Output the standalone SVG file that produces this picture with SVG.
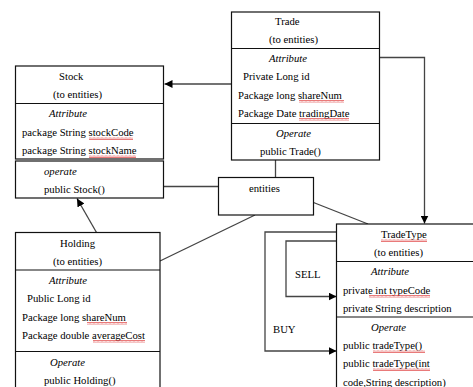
<svg xmlns="http://www.w3.org/2000/svg" width="473" height="387" viewBox="0 0 473 387">
<defs>
<style>
.box{fill:#fff;stroke:#111;stroke-width:1.2}
.div{stroke:#111;stroke-width:1.2}
.ln{fill:none;stroke:#444;stroke-width:1.3}
text{font-family:"Liberation Serif","Times New Roman",serif;font-size:10.7px;fill:#000}
.it{font-style:italic}
.sq{fill:url(#wavy)}
</style>
<pattern id="wavy" width="4" height="3" patternUnits="userSpaceOnUse">
<path d="M0 2.5 L1 0.5 L2 2.5 L3 0.5 L4 2.5" fill="none" stroke="#e04040" stroke-width="0.7"/>
</pattern>
<marker id="ah" viewBox="0 0 10 10" refX="10" refY="5" markerWidth="8" markerHeight="8" markerUnits="userSpaceOnUse" orient="auto">
<path d="M0 0 L10 5 L0 10 Z" fill="#000"/>
</marker>
</defs>

<g id="connectors">
<line class="ln" x1="231" y1="84" x2="164.5" y2="84" marker-end="url(#ah)"/>
<polyline class="ln" points="379,57.5 424.5,57.5 424.5,223.5" marker-end="url(#ah)"/>
<line class="ln" x1="96.5" y1="232.5" x2="77" y2="198.5" marker-end="url(#ah)"/>
<line class="ln" x1="275.5" y1="160" x2="275.5" y2="177.5"/>
<line class="ln" x1="163.5" y1="186.5" x2="218.5" y2="186.5"/>
<line class="ln" x1="255" y1="215" x2="160" y2="261"/>
<line class="ln" x1="313.5" y1="202.5" x2="368" y2="224"/>
<polyline class="ln" points="336.5,241 286,241 286,296.5 336.5,296.5" marker-end="url(#ah)"/>
<polyline class="ln" points="336.5,232 265,232 265,351 336.5,351" marker-end="url(#ah)"/>
</g>

<g id="trade">
<rect class="box" x="231.5" y="12" width="148" height="148"/>
<line class="div" x1="231.5" y1="48.5" x2="379.5" y2="48.5"/>
<line class="div" x1="231.5" y1="123.5" x2="379.5" y2="123.5"/>
<text x="275" y="25">Trade</text>
<text x="269" y="43">(to entities)</text>
<text x="269" y="62" class="it">Attribute</text>
<text x="243" y="80">Private Long id</text>
<text x="238" y="99">Package  long shareNum</text>
<text x="238" y="117">Package Date tradingDate</text>
<text x="276" y="137" class="it">Operate</text>
<text x="260" y="155">public Trade()</text>
<rect class="sq" x="299" y="100" width="45" height="3"/>
<rect class="sq" x="299" y="118" width="50" height="3"/>
</g>

<g id="stock">
<rect class="box" x="15.5" y="66" width="148" height="93"/>
<line class="div" x1="15.5" y1="103.5" x2="163.5" y2="103.5"/>
<rect class="box" x="15.5" y="161" width="148" height="37"/>
<text x="59" y="80">Stock</text>
<text x="53" y="98">(to entities)</text>
<text x="49" y="117" class="it">Attribute</text>
<text x="22" y="136">package String stockCode</text>
<text x="22" y="154">package String stockName</text>
<text x="44" y="175" class="it">operate</text>
<text x="44" y="193">public Stock()</text>
<rect class="sq" x="89" y="137" width="44" height="3"/>
<rect class="sq" x="89" y="155" width="47" height="3"/>
</g>

<g id="entities">
<rect class="box" x="218.5" y="177.5" width="95" height="37.5"/>
<text x="249" y="192">entities</text>
</g>

<g id="holding">
<rect class="box" x="15.5" y="232.5" width="144.5" height="170"/>
<line class="div" x1="15.5" y1="270" x2="160" y2="270"/>
<line class="div" x1="15.5" y1="351.5" x2="160" y2="351.5"/>
<text x="60" y="247">Holding</text>
<text x="53" y="265">(to entities)</text>
<text x="49" y="284" class="it">Attribute</text>
<text x="27" y="302">Public Long id</text>
<text x="22" y="321">Package  long shareNum</text>
<text x="22" y="339">Package double averageCost</text>
<text x="50" y="366" class="it">Operate</text>
<text x="44" y="384">public Holding()</text>
<rect class="sq" x="87" y="322" width="40" height="3"/>
<rect class="sq" x="93" y="340" width="52" height="3"/>
</g>

<g id="tradetype">
<rect class="box" x="336.5" y="224" width="145" height="180"/>
<line class="div" x1="336.5" y1="261.5" x2="481.5" y2="261.5"/>
<line class="div" x1="336.5" y1="317" x2="481.5" y2="317"/>
<text x="381" y="238">TradeType</text>
<text x="374" y="256">(to entities)</text>
<text x="371" y="275" class="it">Attribute</text>
<text x="343" y="294">private int typeCode</text>
<text x="343" y="312">private String description</text>
<text x="371" y="331" class="it">Operate</text>
<text x="343" y="349">public tradeType()</text>
<text x="343" y="367">public tradeType(int</text>
<text x="343" y="386">code,String description)</text>
<rect class="sq" x="381" y="239" width="46" height="3"/>
<rect class="sq" x="369" y="295" width="61" height="3"/>
<rect class="sq" x="373" y="350" width="52" height="3"/>
<rect class="sq" x="373" y="368" width="57" height="3"/>
</g>

<g id="labels">
<text x="295" y="278">SELL</text>
<text x="273" y="333">BUY</text>
</g>
</svg>
